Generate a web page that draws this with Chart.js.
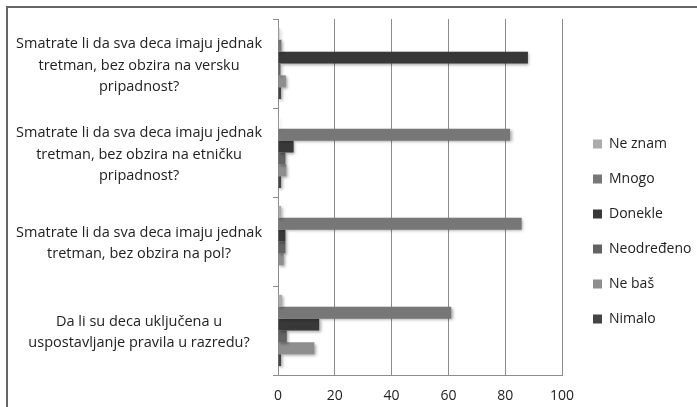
<!DOCTYPE html>
<html lang="sr">
<head>
    <meta charset="UTF-8">
    <title>Tretman dece</title>
    <script src="https://cdn.jsdelivr.net/npm/chart.js@4.4.1/dist/chart.umd.min.js"></script>
    <style>
        body {
            margin: 0;
            background: #ffffff;
        }

        .frame {
            position: absolute;
            left: 6px;
            top: 6px;
            right: 0;
            bottom: 0;
            border-top: 2px solid #666666;
            border-left: 2px solid #666666;
        }

        .chart-container {
            position: absolute;
            left: 0;
            top: 0;
            width: 697px;
            height: 407px;
        }
    </style>
</head>
<body>
    <div class="frame"></div>
    <div class="chart-container">
        <canvas id="surveyChart"></canvas>
    </div>

    <script>
        // Questions (top to bottom), split into lines as in the original
        const questions = [
            ['Smatrate li da sva deca imaju jednak', 'tretman, bez obzira na versku', 'pripadnost?'],
            ['Smatrate li da sva deca imaju jednak', 'tretman, bez obzira na etničku', 'pripadnost?'],
            ['Smatrate li da sva deca imaju jednak', 'tretman, bez obzira na pol?'],
            ['Da li su deca uključena u', 'uspostavljanje pravila u razredu?']
        ];

        const answers = ['Ne znam', 'Mnogo', 'Donekle', 'Neodređeno', 'Ne baš', 'Nimalo'];

        // one array per answer, values per question
        const neZnam      = [0.5, 0.3, 1.1, 1.4];
        const mnogo       = [1.2, 81.7, 85.8, 61.0];
        const donekle     = [88.0, 5.5, 2.6, 14.5];
        const neodredjeno = [0.9, 2.6, 2.6, 3.1];
        const neBas       = [2.8, 2.9, 2.0, 12.8];
        const nimalo      = [1.1, 1.1, 0, 1.1];

        const xTicks = [0, 20, 40, 60, 80, 100];

        const seriesValues = [neZnam, mnogo, donekle, neodredjeno, neBas, nimalo];
        const seriesColors = ['#ababab', '#777777', '#383838', '#626262', '#8e8e8e', '#454545'];

        const fontFamily = '"Open Sans", sans-serif';
        const textColor = '#222222';
        const gridColor = '#8c8c8c';

        // Excel style drop shadow under the bars
        const barShadow = {
            id: 'barShadow',
            beforeDatasetsDraw(chart) {
                const ctx = chart.ctx;
                ctx.save();
                ctx.shadowColor = 'rgba(0, 0, 0, 0.35)';
                ctx.shadowBlur = 3;
                ctx.shadowOffsetX = 1.5;
                ctx.shadowOffsetY = 1.5;
            },
            afterDatasetsDraw(chart) {
                chart.ctx.restore();
            }
        };

        // keep the legend a fixed width and nudge it away from the plot
        const legendPlace = {
            id: 'legendPlace',
            beforeLayout(chart) {
                const lg = chart.legend;
                if (lg && !lg._fixed) {
                    const fit = lg.fit;
                    lg.fit = function () {
                        fit.call(this);
                        this.width = 135;
                    };
                    lg._fixed = true;
                }
            },
            afterLayout(chart) {
                const lg = chart.legend;
                lg.left += 10;
                lg.top += 20;
                lg.bottom += 20;
            }
        };

        const ctx = document.getElementById('surveyChart').getContext('2d');

        new Chart(ctx, {
            type: 'bar',
            data: {
                labels: questions,
                datasets: answers.map((name, i) => ({
                    label: name,
                    data: seriesValues[i],
                    backgroundColor: seriesColors[i],
                    borderWidth: 0,
                    categoryPercentage: 0.8,
                    barPercentage: 1.0
                }))
            },
            options: {
                indexAxis: 'y',
                responsive: true,
                maintainAspectRatio: false,
                animation: false,
                layout: {
                    padding: { left: 8, top: 19, right: 0, bottom: 3 }
                },
                plugins: {
                    legend: {
                        position: 'right',
                        labels: {
                            boxWidth: 9,
                            boxHeight: 9,
                            padding: 21,
                            color: textColor,
                            font: { family: fontFamily, size: 14 }
                        }
                    },
                    tooltip: { enabled: false }
                },
                scales: {
                    x: {
                        min: 0,
                        max: 100,
                        afterBuildTicks(scale) {
                            scale.ticks = xTicks.map(v => ({ value: v }));
                        },
                        afterFit(scale) {
                            scale.height = 29;
                        },
                        grid: {
                            color: gridColor,
                            drawTicks: false
                        },
                        border: { color: gridColor },
                        ticks: {
                            padding: 13,
                            color: textColor,
                            font: { family: fontFamily, size: 14 }
                        }
                    },
                    y: {
                        afterFit(scale) {
                            scale.width = 270;
                            // labels may spill past the band edges, do not shrink the plot for them
                            scale.paddingTop = 0;
                            scale.paddingBottom = 0;
                        },
                        grid: {
                            drawOnChartArea: false,
                            tickLength: 5,
                            color: gridColor
                        },
                        border: { color: gridColor },
                        ticks: {
                            crossAlign: 'center',
                            padding: 11,
                            labelOffset: 2,
                            color: textColor,
                            font: { family: fontFamily, size: 14.5, lineHeight: 1.48 }
                        }
                    }
                }
            },
            plugins: [barShadow, legendPlace]
        });
    </script>
</body>
</html>
